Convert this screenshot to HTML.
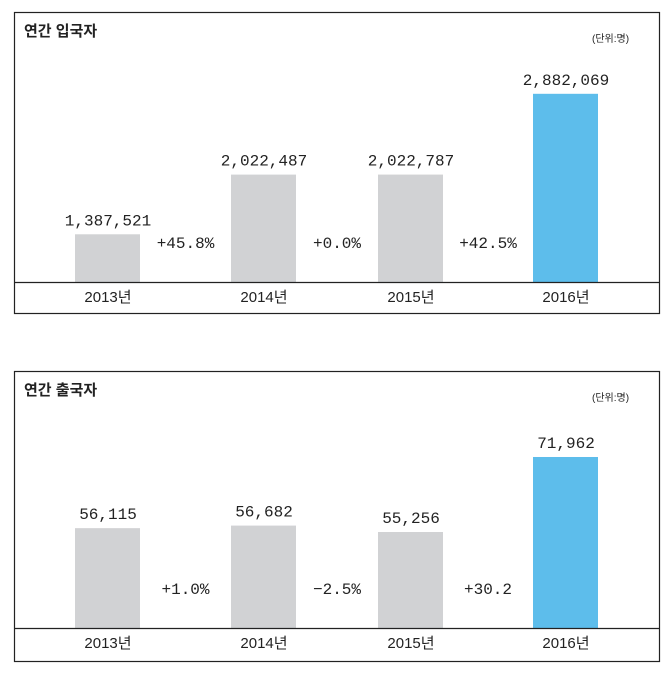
<!DOCTYPE html>
<html><head><meta charset="utf-8"><style>
body{margin:0;background:#fff;width:671px;height:671px;overflow:hidden}
svg text{font-family:"Liberation Sans","Noto Sans CJK KR",sans-serif;fill:#222}
.v{font-family:"Liberation Mono","Noto Sans CJK KR",monospace;font-size:16px}
</style></head><body>
<svg id="s" width="671" height="671" xmlns="http://www.w3.org/2000/svg"></svg>
<script>
const years=["2013년","2014년","2015년","2016년"];
const entryValues=[1387521,2022487,2022787,2882069];
const entryLabels=["1,387,521","2,022,487","2,022,787","2,882,069"];
const entryChange=["+45.8%","+0.0%","+42.5%"];
const exitValues=[56115,56682,55256,71962];
const exitLabels=["56,115","56,682","55,256","71,962"];
const exitChange=["+1.0%","−2.5%","+30.2"];
const NS="http://www.w3.org/2000/svg";
const svg=document.getElementById('s');
function mk(t,a,p){const e=document.createElementNS(NS,t);for(const k in a)e.setAttribute(k,a[k]);(p||svg).appendChild(e);return e;}
function chart(name,top,bottom,base,title,vals,labels,changes,dmin,k){
  const g=mk('g',{});
  
  
  const box=mk('rect',{x:14.5,y:top+.5,width:645,height:bottom-top,fill:'none',stroke:'#222','stroke-width':1.2},g);
  
  
  const t=mk('text',{x:24,y:top+24,'font-size':15,'font-weight':'bold'},g);t.textContent=title;
  
  
  const u=mk('text',{x:592,y:top+30,'font-size':10},g);u.textContent="(단위:명)";
  
  
  const xs=[75,231,378,533];
  vals.forEach((v,i)=>{
    const h=k*(v-dmin);
    const r=mk('rect',{x:xs[i],y:base-h,width:65,height:h,fill:i==3?'#5dbdeb':'#d1d2d4'},g);
    
    
    const l=mk('text',{x:xs[i]+33,y:base-h-9,'text-anchor':'middle',class:'v'},g);l.textContent=labels[i];
    
    
    const y=mk('text',{x:xs[i]+33,y:base+20,'text-anchor':'middle','font-size':15},g);y.textContent=years[i];
    
    
    if(i<3){const c=mk('text',{x:(xs[i]+xs[i+1]+65)/2,y:base-34,'text-anchor':'middle',class:'v'},g);c.textContent=changes[i];
    
    }
  });
  const ax=mk('line',{x1:14,x2:660,y1:base+.5,y2:base+.5,stroke:'#222','stroke-width':1.2},g);
  
  
}
chart('entry-chart',12,313,282,'연간 입국자',entryValues,entryLabels,entryChange,880000,0.000094);
chart('exit-chart',371,661,628,'연간 출국자',exitValues,exitLabels,exitChange,33875,0.00449);
</script>
</body></html>
